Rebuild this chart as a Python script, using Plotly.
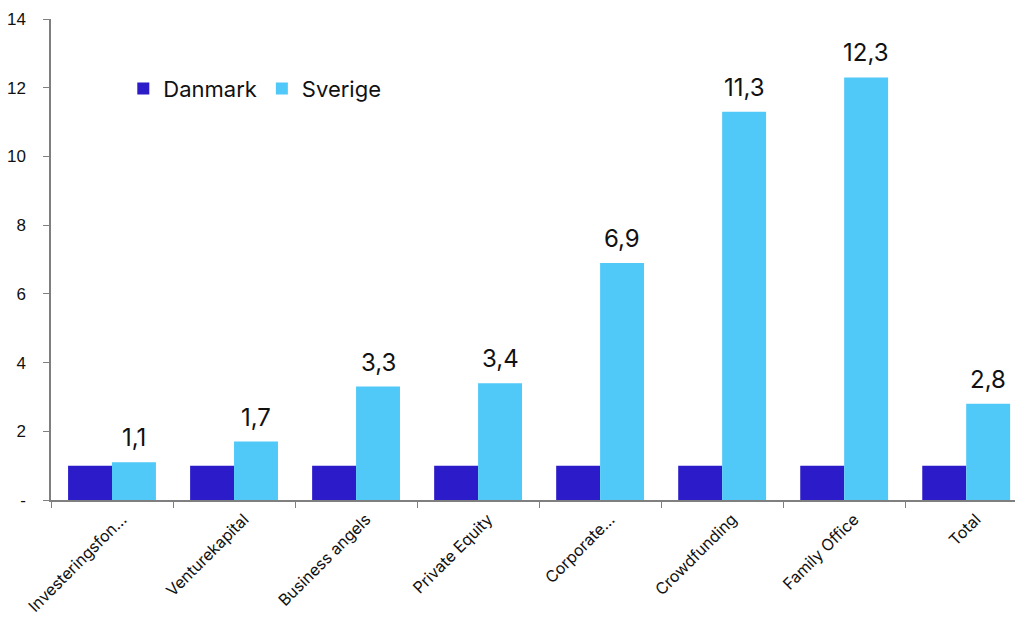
import plotly.graph_objects as go

categories = ["Investeringsfon…", "Venturekapital", "Business angels", "Private Equity",
              "Corporate…", "Crowdfunding", "Family Office", "Total"]
danmark = [1, 1, 1, 1, 1, 1, 1, 1]
sverige = [1.1, 1.7, 3.3, 3.4, 6.9, 11.3, 12.3, 2.8]
y_ticks = [0, 2, 4, 6, 8, 10, 12, 14]
y_ticktext = ["-", "2", "4", "6", "8", "10", "12", "14"]

label_font = "Inter, Liberation Sans, sans-serif"

fig = go.Figure()
fig.add_trace(go.Bar(x=categories, y=danmark, name="Danmark",
                     marker=dict(color="#2B1BC9", line=dict(width=0))))
fig.add_trace(go.Bar(x=categories, y=sverige, name="Sverige",
                     marker=dict(color="#50C9F9", line=dict(width=0))))

# value labels above the Sverige bars
for cat, val in zip(categories, sverige):
    fig.add_annotation(x=cat, y=val, xref="x", yref="y",
                       text=f"{val:.1f}".replace(".", ","),
                       showarrow=False, xshift=22, yshift=8, yanchor="bottom",
                       font=dict(size=24, color="#111111", family=label_font))

fig.update_layout(
    width=1015, height=618,
    margin=dict(l=51, r=0, t=19, b=118, autoexpand=False),
    paper_bgcolor="white", plot_bgcolor="white",
    barmode="group", bargap=0.28, bargroupgap=0,
    separators=",.",
    font=dict(family="Liberation Sans, Arial, sans-serif", color="#111111"),
    showlegend=True,
    legend=dict(orientation="h", x=0.075, y=0.855, xanchor="left", yanchor="middle",
                font=dict(size=22, family=label_font),
                bgcolor="rgba(0,0,0,0)", itemsizing="constant", itemwidth=30),
    xaxis=dict(range=[-0.5, 7.4], showline=True, linecolor="#7f7f7f", linewidth=1.5,
               ticks="outside", tickson="boundaries", ticklen=6, tickcolor="#7f7f7f",
               tickangle=-45, showgrid=False, ticklabelstandoff=2, ticklabelshift=10,
               automargin=False,
               tickfont=dict(size=16, family=label_font, color="#111111")),
    yaxis=dict(range=[0, 14], tickvals=y_ticks, ticktext=y_ticktext, showline=True,
               linecolor="#7f7f7f", linewidth=1.5, ticks="outside", ticklen=6,
               tickcolor="#7f7f7f", showgrid=False, zeroline=False, ticklabelstandoff=14,
               automargin=False, tickfont=dict(size=17, color="#111111")),
)

fig.write_html("out.html")
